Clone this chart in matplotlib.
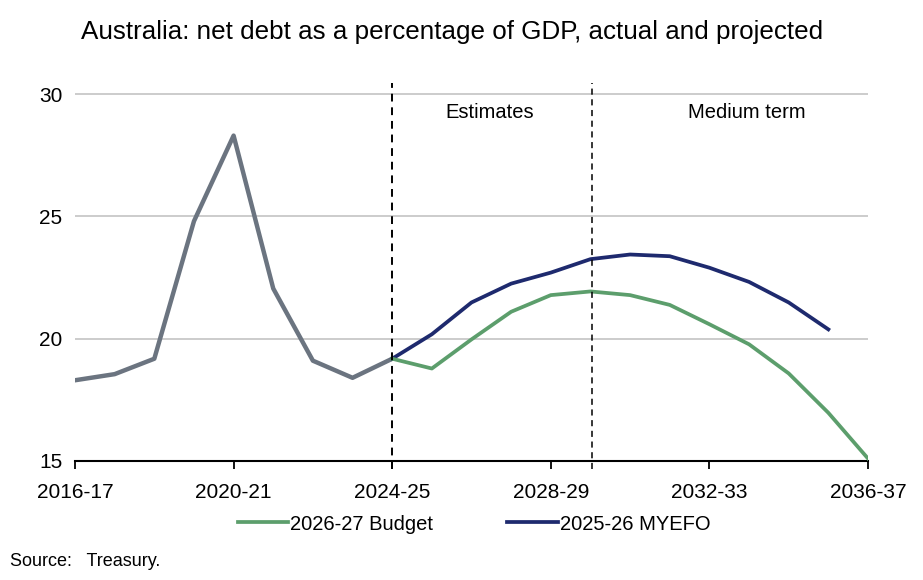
import matplotlib.pyplot as plt

plt.rcParams['font.family'] = ['Liberation Sans', 'DejaVu Sans']

# financial years, index 0 = 2016-17
years = ['2016-17', '2017-18', '2018-19', '2019-20', '2020-21', '2021-22',
         '2022-23', '2023-24', '2024-25', '2025-26', '2026-27', '2027-28',
         '2028-29', '2029-30', '2030-31', '2031-32', '2032-33', '2033-34',
         '2034-35', '2035-36', '2036-37']

actual = [18.3, 18.55, 19.18, 24.8, 28.3, 22.05, 19.1, 18.4, 19.18]
budget = [19.18, 18.78, 19.97, 21.1, 21.78, 21.93, 21.78, 21.38, 20.59,
          19.77, 18.58, 16.97, 15.1]
myefo = [19.18, 20.18, 21.48, 22.25, 22.7, 23.25, 23.44, 23.37, 22.9,
         22.32, 21.48, 20.38]

x_actual = list(range(len(actual)))
x_budget = list(range(8, 8 + len(budget)))
x_myefo = list(range(8, 8 + len(myefo)))

fig = plt.figure(figsize=(9.23, 5.8), dpi=100)
ax = fig.add_axes([75 / 923, 1 - 461 / 580, (868 - 75) / 923, (461 - 83) / 580])

ax.set_xlim(0, 20)
ax.set_ylim(15, 30.45)

for y in [20, 25, 30]:
    ax.axhline(y, color='#c8c8c8', lw=1.3, zorder=0)

ax.plot(x_actual, actual, color='#6b7480', lw=3.2, zorder=3)
ax.plot(x_myefo, myefo, color='#1e2a6e', lw=2.7, label='2025-26 MYEFO', zorder=3)
ax.plot(x_budget, budget, color='#5c9e6c', lw=2.7, label='2026-27 Budget', zorder=3)

# period markers
ax.axvline(8, ymin=-0.02, color='black', lw=1.4, ls=(0, (4, 3)), clip_on=False, zorder=4)
ax.axvline(13.05, ymin=-0.02, color='black', lw=1.1, ls=(0, (4, 3)), clip_on=False, zorder=4)
ax.text(10.45, 29.25, 'Estimates', ha='center', va='center', fontsize=14.5)
ax.text(16.95, 29.25, 'Medium term', ha='center', va='center', fontsize=14.5)

for s in ['top', 'right', 'left']:
    ax.spines[s].set_visible(False)
ax.spines['bottom'].set_linewidth(1.5)

ax.set_xticks(range(0, 21, 4))
ax.set_xticklabels(years[::4])
ax.set_yticks([15, 20, 25, 30])
ax.tick_params(axis='x', length=6, width=1.3, labelsize=15, pad=10)
ax.tick_params(axis='y', length=0, labelsize=15, pad=9)

h, l = ax.get_legend_handles_labels()
fig.legend([h[1], h[0]], [l[1], l[0]], loc='center', bbox_to_anchor=(474 / 923, 1 - 524 / 580),
           ncol=2, frameon=False, fontsize=14.5, handlelength=2.5, handletextpad=0.1,
           columnspacing=3.7)

fig.text(0.49, 1 - 32 / 580, 'Australia: net debt as a percentage of GDP, actual and projected',
         ha='center', va='center', fontsize=18.7)
fig.text(10 / 923, 1 - 562 / 580, 'Source:   Treasury.', ha='left', va='center', fontsize=13)

fig.savefig('out.png', dpi=100)
